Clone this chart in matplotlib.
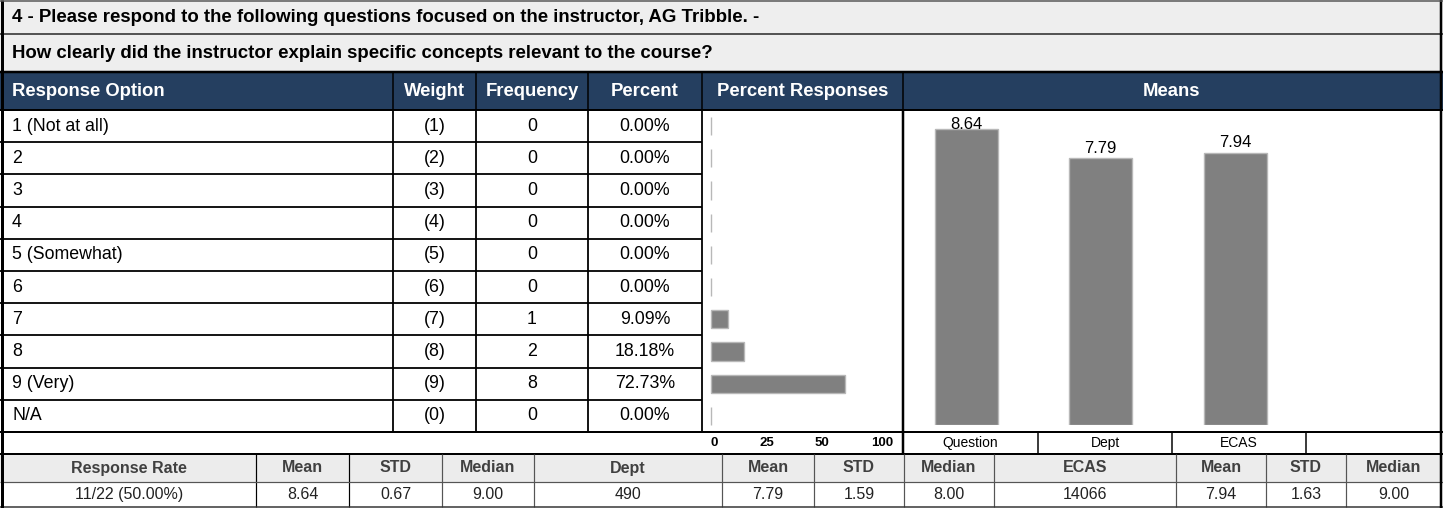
import matplotlib
matplotlib.use("Agg")
import matplotlib.pyplot as plt

plt.rcParams["font.family"] = ["Liberation Sans", "DejaVu Sans"]

# ---- data ---------------------------------------------------------------
section_title = "4 - Please respond to the following questions focused on the instructor, AG Tribble. -"
question = "How clearly did the instructor explain specific concepts relevant to the course?"

header_labels = ["Response Option", "Weight", "Frequency", "Percent", "Percent Responses", "Means"]
options = ["1 (Not at all)", "2", "3", "4", "5 (Somewhat)", "6", "7", "8", "9 (Very)", "N/A"]
weights = [1, 2, 3, 4, 5, 6, 7, 8, 9, 0]
frequency = [0, 0, 0, 0, 0, 0, 1, 2, 8, 0]
percent = [0.00, 0.00, 0.00, 0.00, 0.00, 0.00, 9.09, 18.18, 72.73, 0.00]
pct_ticks = ["0", "25", "50", "100"]

mean_groups = ["Question", "Dept", "ECAS"]
mean_values = [8.64, 7.79, 7.94]

stat_headers = ["Response Rate", "Mean", "STD", "Median", "Dept", "Mean", "STD", "Median",
                "ECAS", "Mean", "STD", "Median"]
stat_values = ["11/22 (50.00%)", "8.64", "0.67", "9.00", "490", "7.79", "1.59", "8.00",
               "14066", "7.94", "1.63", "9.00"]

# ---- layout (pixels) ----------------------------------------------------
W, H = 1443, 508
cols = [2, 393, 476, 588, 702, 903, 1441]
row_top, row_bot = 110, 432
nrows = len(options)
rh = (row_bot - row_top) / nrows
stat_cols = [2, 256, 349, 442, 534, 722, 814, 904, 994, 1176, 1266, 1346, 1441]
means_cells = [903, 1038, 1172, 1306, 1441]
tick_x = [714, 767, 822, 882]

navy = "#253f60"
lgray = "#eeeeee"
bar_col = "#808080"
bar_edge = "#b8b8b8"
px = 72 / 100.0  # points per pixel


def fig_rect(x0, y0, x1, y1):
    return [x0 / W, 1 - y1 / H, (x1 - x0) / W, (y1 - y0) / H]


def rect(ax, x0, y0, x1, y1, col):
    ax.add_patch(plt.Rectangle((x0, y0), x1 - x0, y1 - y0, facecolor=col, edgecolor="none", zorder=0))


def hline(ax, y, x0, x1, lw=2, col="black"):
    ax.plot([x0, x1], [y, y], color=col, lw=lw * px, solid_capstyle="butt", zorder=3)


def vline(ax, x, y0, y1, lw=2, col="black"):
    ax.plot([x, x], [y0, y1], color=col, lw=lw * px, solid_capstyle="butt", zorder=3)


#_____________________________________________________________________________
def main():

    fig = plt.figure(figsize=(W / 100, H / 100), dpi=100)
    ax = fig.add_axes([0, 0, 1, 1])
    ax.set_xlim(0, W)
    ax.set_ylim(H, 0)
    ax.axis("off")

    # backgrounds
    rect(ax, 0, 0, W, 72, lgray)
    rect(ax, 0, 72, W, 110, navy)
    rect(ax, 0, 110, W, 454, "white")
    rect(ax, 0, 454, W, 482, "#ececec")
    rect(ax, 0, 482, W, H, "white")

    # title rows
    ax.text(12, 17.5, section_title, fontsize=13.4, fontweight="bold", va="center", ha="left")
    ax.text(12, 53.5, question, fontsize=13.4, fontweight="bold", va="center", ha="left")
    hline(ax, 34, 0, W, lw=2, col="#555555")
    hline(ax, 72, 0, W, lw=2.5)

    # header row
    for i, lab in enumerate(header_labels):
        if i == 0:
            ax.text(12, 91, lab, color="white", fontsize=13.3, fontweight="bold", va="center", ha="left")
        else:
            ax.text((cols[i] + cols[i + 1]) / 2, 91, lab, color="white", fontsize=13.3,
                    fontweight="bold", va="center", ha="center")
    for x in cols[1:-1]:
        vline(ax, x, 72, 110, lw=1.5)
    hline(ax, 110, 0, W, lw=2)

    # data rows
    for i in range(nrows):
        yc = row_top + rh * (i + 0.5)
        ax.text(12, yc, options[i], fontsize=12.8, va="center", ha="left")
        ax.text((cols[1] + cols[2]) / 2, yc, "(%d)" % weights[i], fontsize=12.8, va="center", ha="center")
        ax.text((cols[2] + cols[3]) / 2, yc, "%d" % frequency[i], fontsize=12.8, va="center", ha="center")
        ax.text((cols[3] + cols[4]) / 2, yc, "%.2f%%" % percent[i], fontsize=12.8, va="center", ha="center")
        if i > 0:
            hline(ax, row_top + rh * i, 0, cols[4], lw=1.8)
    for x in cols[1:5]:
        vline(ax, x, row_top, row_bot, lw=1.8)
    vline(ax, cols[5], row_top, 454, lw=2.5)

    # axis row under the bars
    hline(ax, row_bot, 0, W, lw=2)
    for lab, x in zip(pct_ticks, tick_x):
        ax.text(x, 443, lab, fontsize=9.5, fontweight="bold", va="center", ha="center")
    for i, lab in enumerate(mean_groups):
        ax.text((means_cells[i] + means_cells[i + 1]) / 2, 443, lab, fontsize=10, va="center", ha="center")
    for x in means_cells[1:-1]:
        vline(ax, x, row_bot, 454, lw=1.5)
    hline(ax, 454, 0, W, lw=2)

    # stats table
    for i in range(len(stat_headers)):
        xc = (stat_cols[i] + stat_cols[i + 1]) / 2
        ax.text(xc, 468, stat_headers[i], fontsize=11.5, fontweight="bold", color="#404040",
                va="center", ha="center")
        ax.text(xc, 494.5, stat_values[i], fontsize=11.5, color="#222222", va="center", ha="center")
    for j, x in enumerate(stat_cols[1:-1]):
        col = "black" if j < 2 else "#555555"
        vline(ax, x, 454, 507, lw=1.2, col=col)
    hline(ax, 482, 0, W, lw=1.2, col="#555555")
    hline(ax, 507, 0, W, lw=1.5, col="#333333")

    # outer frame
    vline(ax, 1.5, 0, 508, lw=3)
    vline(ax, 1441, 0, 508, lw=2.5)
    hline(ax, 0.5, 0, W, lw=1.5, col="#555555")

    # percent responses bars
    axp = fig.add_axes(fig_rect(cols[4], row_top, cols[5], row_bot))
    axp.barh(range(nrows), percent, height=0.57, left=0, color=bar_col, edgecolor=bar_edge, linewidth=1.0)
    axp.set_xlim(-9 / 1.84, (cols[5] - 711) / 1.84)
    axp.set_ylim(nrows - 0.5, -0.5)
    axp.axis("off")

    # means bars
    axm = fig.add_axes(fig_rect(means_cells[0], row_top, means_cells[-1], 425))
    axm.bar(range(len(mean_values)), mean_values, width=0.47, color=bar_col, edgecolor=bar_edge, linewidth=1.0)
    axm.set_xlim(-0.47, 3.53)
    axm.set_ylim(0, 9.2)
    axm.axis("off")
    for i, v in enumerate(mean_values):
        axm.text(i, min(v + 0.08, 8.56), "%.2f" % v, fontsize=12, ha="center", va="bottom", clip_on=False)

    fig.savefig("out.png", dpi=100)
    plt.close()

#main

#_____________________________________________________________________________
if __name__ == "__main__":

    main()
